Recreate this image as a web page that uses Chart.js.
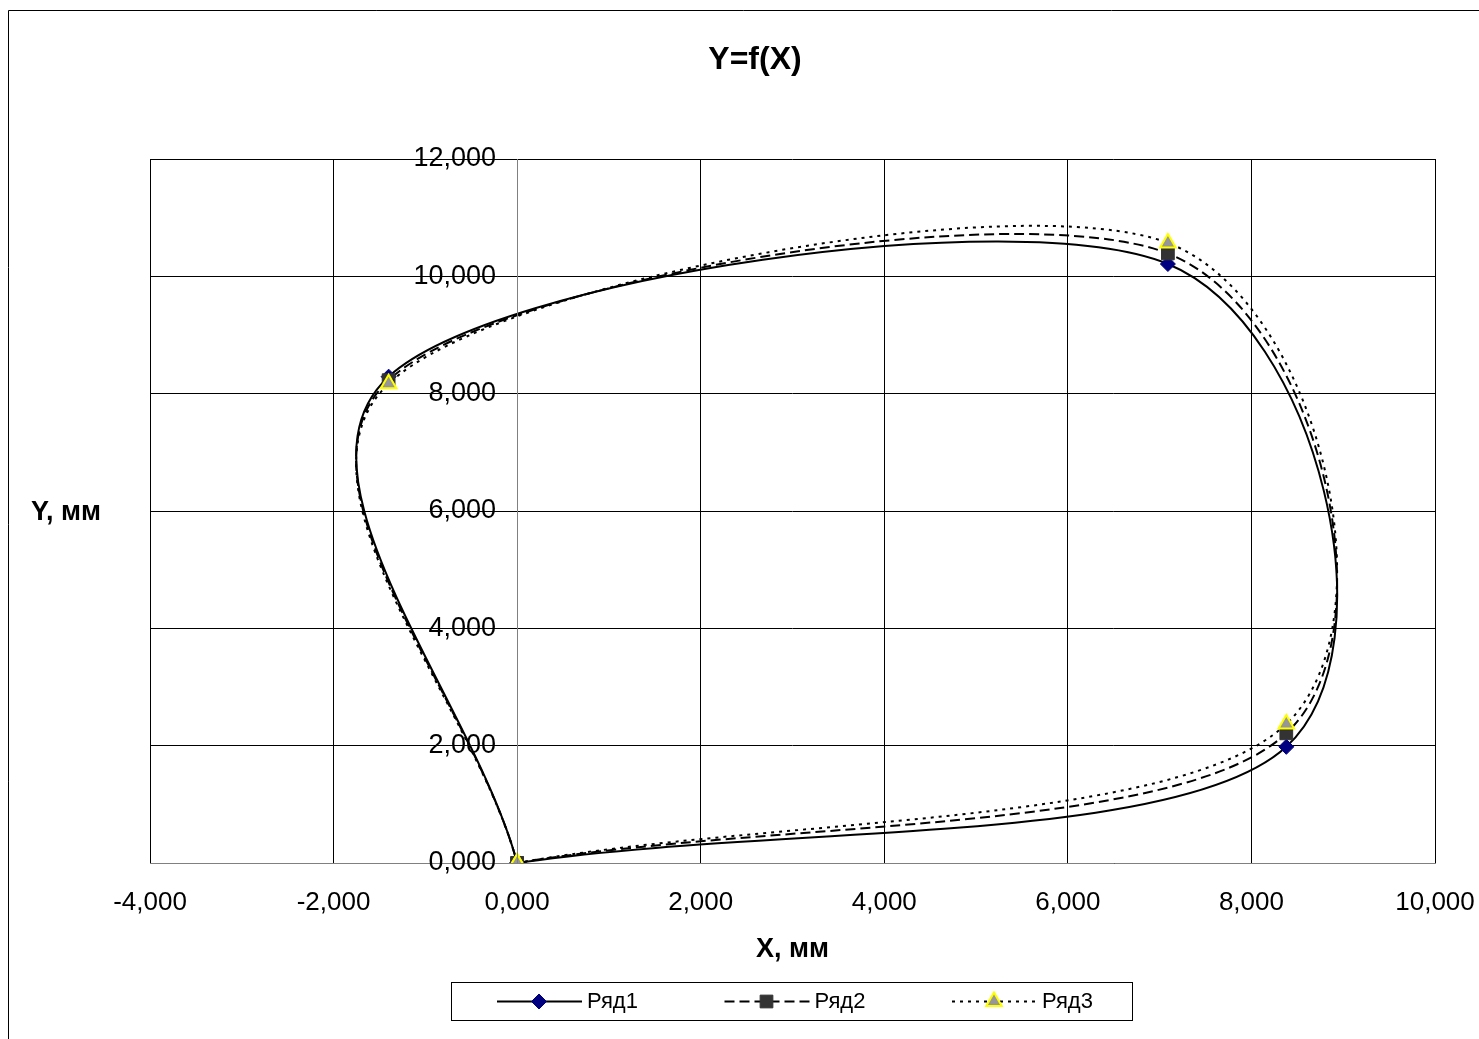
<!DOCTYPE html>
<html lang="ru">
<head>
<meta charset="utf-8">
<title>Y=f(X)</title>
<script src="https://cdn.jsdelivr.net/npm/chart.js@4.4.1/dist/chart.umd.min.js"></script>
<style>
    html, body { margin: 0; padding: 0; background: #fff; }
    #wrap { width: 1479px; height: 1039px; }
</style>
</head>
<body>
<div id="wrap"><canvas id="myChart" width="1479" height="1039"></canvas></div>
<script>
const seriesNames = ['Ряд1', 'Ряд2', 'Ряд3'];

// closed contour, X and Y in мм (last point returns to the start)
const x1 = [0, 8.38, 7.09, -1.40, 0];
const y1 = [0, 1.98, 10.21, 8.29, 0];

const x2 = [0, 8.38, 7.09, -1.40, 0];
const y2 = [0, 2.21, 10.39, 8.23, 0];

const x3 = [0, 8.38, 7.09, -1.40, 0];
const y3 = [0, 2.37, 10.57, 8.17, 0];

const xTicks = [-4, -2, 0, 2, 4, 6, 8, 10];
const yTicks = [0, 2, 4, 6, 8, 10, 12];

const FONT = '"Liberation Sans", Arial, sans-serif';
Chart.defaults.font.family = FONT;
Chart.defaults.color = '#000';

function toPoints(xs, ys) {
    return xs.map((x, i) => ({ x: x, y: ys[i] }));
}

function fmt(v) {
    return v.toFixed(3).replace('.', ',');
}

// smoothed line the way the spreadsheet does it: Catmull-Rom, 1/6 of the chord
// through the neighbours inside, 1/3 of the segment at both ends
const smoothLine = {
    id: 'smoothLine',
    beforeDatasetDraw(chart, args) {
        const line = args.meta.dataset;
        const pts = args.meta.data;
        if (!line || pts.length < 2) return;
        line.updateControlPoints(chart.chartArea, 'x');
        const n = pts.length;
        for (let i = 0; i < n; i++) {
            const p = pts[i];
            if (i === 0) {
                p.cp1x = p.x; p.cp1y = p.y;
                p.cp2x = p.x + (pts[1].x - p.x) / 3;
                p.cp2y = p.y + (pts[1].y - p.y) / 3;
            } else if (i === n - 1) {
                p.cp1x = p.x - (p.x - pts[n - 2].x) / 3;
                p.cp1y = p.y - (p.y - pts[n - 2].y) / 3;
                p.cp2x = p.x; p.cp2y = p.y;
            } else {
                const dx = (pts[i + 1].x - pts[i - 1].x) / 6;
                const dy = (pts[i + 1].y - pts[i - 1].y) / 6;
                p.cp1x = p.x - dx; p.cp1y = p.y - dy;
                p.cp2x = p.x + dx; p.cp2y = p.y + dy;
            }
        }
        line._path = undefined;
    }
};

function drawMarker(ctx, ds, x, y, radius) {
    ctx.save();
    ctx.setLineDash([]);
    ctx.fillStyle = ds.pointBackgroundColor;
    ctx.strokeStyle = ds.pointBorderColor;
    ctx.lineWidth = ds.pointBorderWidth;
    Chart.helpers.drawPoint(ctx, {
        pointStyle: ds.pointStyle,
        radius: radius,
        rotation: 0,
        borderWidth: ds.pointBorderWidth
    }, x, y);
    ctx.restore();
}

// value axis line at X = 0 (the tick labels sit a little to the left of it)
const valueAxisLine = {
    id: 'valueAxisLine',
    afterDatasetsDraw(chart) {
        const ctx = chart.ctx;
        const area = chart.chartArea;
        const px = Math.round(chart.scales.x.getPixelForValue(0)) + 0.5;
        ctx.save();
        ctx.strokeStyle = '#808080';
        ctx.lineWidth = 1;
        ctx.beginPath();
        ctx.moveTo(px, area.top);
        ctx.lineTo(px, area.bottom);
        ctx.stroke();
        ctx.restore();
    }
};

// frame, titles and the boxed legend under the plot
const decorations = {
    id: 'decorations',
    afterDraw(chart) {
        const ctx = chart.ctx;
        ctx.save();

        ctx.strokeStyle = '#000';
        ctx.lineWidth = 1;
        ctx.beginPath();
        ctx.moveTo(8.5, chart.height);
        ctx.lineTo(8.5, 10.5);
        ctx.lineTo(chart.width, 10.5);
        ctx.stroke();

        ctx.fillStyle = '#000';
        ctx.textAlign = 'center';
        ctx.textBaseline = 'middle';
        ctx.font = 'bold 32px ' + FONT;
        ctx.fillText('Y=f(X)', 755, 60);
        ctx.font = 'bold 27px ' + FONT;
        const area = chart.chartArea;
        ctx.fillText('X, мм', (area.left + area.right) / 2, 950);
        ctx.fillText('Y, мм', 66, 513);

        // legend
        const box = { left: 451.5, top: 982.5, width: 681, height: 38 };
        ctx.strokeStyle = '#000';
        ctx.lineWidth = 1;
        ctx.strokeRect(box.left, box.top, box.width, box.height);
        const cy = box.top + box.height / 2;
        ctx.font = '22px ' + FONT;
        ctx.textAlign = 'left';
        chart.data.datasets.forEach((ds, i) => {
            const lx = 497 + i * 227.5;
            ctx.save();
            ctx.strokeStyle = ds.borderColor;
            ctx.lineWidth = ds.borderWidth;
            ctx.setLineDash(ds.borderDash || []);
            ctx.beginPath();
            ctx.moveTo(lx, cy);
            ctx.lineTo(lx + 85, cy);
            ctx.stroke();
            ctx.restore();
            drawMarker(ctx, ds, lx + 42, cy, ds.pointRadius);
            ctx.fillStyle = '#000';
            ctx.fillText(ds.label, lx + 90, cy);
        });
        ctx.restore();
    }
};

const data = {
    datasets: [{
        label: seriesNames[0],
        data: toPoints(x1, y1),
        borderColor: '#000',
        borderWidth: 2,
        tension: 0.3,
        pointStyle: 'rectRot',
        pointRadius: 7.5,
        pointBackgroundColor: '#000080',
        pointBorderColor: '#000080',
        pointBorderWidth: 1,
        order: 3
    }, {
        label: seriesNames[1],
        data: toPoints(x2, y2),
        borderColor: '#000',
        borderWidth: 2,
        borderDash: [10, 5],
        tension: 0.3,
        pointStyle: 'rect',
        pointRadius: 9,
        pointBackgroundColor: '#333333',
        pointBorderColor: '#333333',
        pointBorderWidth: 1,
        order: 2
    }, {
        label: seriesNames[2],
        data: toPoints(x3, y3),
        borderColor: '#000',
        borderWidth: 2,
        borderDash: [3, 5],
        tension: 0.3,
        pointStyle: 'triangle',
        pointRadius: 9,
        pointBackgroundColor: '#969696',
        pointBorderColor: '#ffff00',
        pointBorderWidth: 2,
        order: 1
    }]
};

const config = {
    type: 'line',
    data: data,
    options: {
        responsive: false,
        devicePixelRatio: 1,
        animation: false,
        events: [],
        layout: {
            padding: { left: 150, right: 44, top: 159, bottom: 0 }
        },
        plugins: {
            legend: { display: false },
            title: { display: false },
            tooltip: { enabled: false }
        },
        scales: {
            x: {
                type: 'linear',
                min: -4,
                max: 10,
                afterBuildTicks: (axis) => { axis.ticks = xTicks.map(v => ({ value: v })); },
                afterFit: (axis) => {
                    axis.height = 176;
                    axis.paddingRight = 0;
                    axis.paddingLeft = 0;
                },
                grid: { color: '#000', lineWidth: 1, drawTicks: false },
                border: { color: '#808080', width: 1 },
                ticks: {
                    font: { size: 26 },
                    padding: 24,
                    maxRotation: 0,
                    callback: (v) => fmt(v)
                }
            },
            y: {
                type: 'linear',
                // labels end about 20 px left of the X = 0 line
                position: { x: -0.23 },
                min: 0,
                max: 12,
                afterBuildTicks: (axis) => { axis.ticks = yTicks.map(v => ({ value: v })); },
                grid: { color: '#000', lineWidth: 1, drawTicks: false },
                border: { display: false },
                ticks: {
                    font: { size: 27 },
                    callback: (v) => fmt(v)
                }
            }
        }
    },
    plugins: [smoothLine, valueAxisLine, decorations]
};

const myChart = new Chart(
    document.getElementById('myChart'),
    config
);
</script>
</body>
</html>
